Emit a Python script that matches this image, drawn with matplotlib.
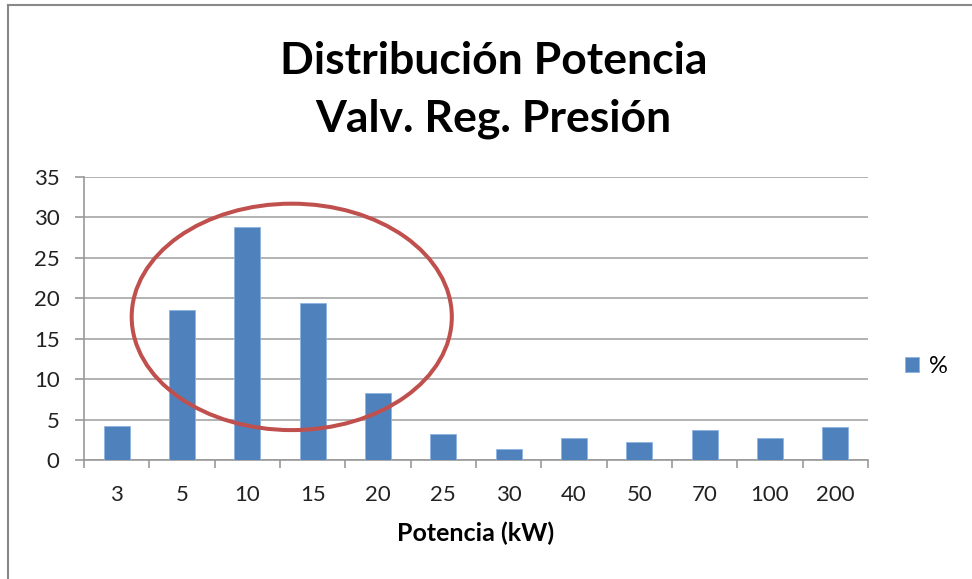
import matplotlib.pyplot as plt
from matplotlib.patches import Ellipse
from matplotlib.lines import Line2D
import numpy as np

# data
categories = ['3', '5', '10', '15', '20', '25', '30', '40', '50', '70', '100', '200']
percent = [4.2, 18.5, 28.8, 19.4, 8.3, 3.2, 1.4, 2.7, 2.2, 3.7, 2.7, 4.1]
y_ticks = [0, 5, 10, 15, 20, 25, 30, 35]

plt.rcParams['font.family'] = ['Lato', 'DejaVu Sans']

fig = plt.figure(figsize=(9.72, 5.79), dpi=100)
ax = fig.add_axes([0.0864, 0.2055, 0.8066, 0.4888])

x = np.arange(len(categories))
ax.bar(x, percent, 0.4, color='#4F81BD', edgecolor='#8EB4E3', linewidth=0.6, zorder=3, label='%')

ax.set_xlim(-0.5, len(categories) - 0.5)
ax.set_ylim(0, 35)
ax.set_yticks(y_ticks)
ax.set_yticklabels([str(v) for v in y_ticks], fontsize=16, color='#222222')
ax.set_xticks(x)
ax.set_xticklabels(categories, fontsize=16, color='#222222')
ax.tick_params(axis='x', length=0, pad=18)
ax.tick_params(axis='y', length=6.5, width=1.2, color='#999999', pad=11)
ax.set_xticks(np.arange(len(categories) + 1) - 0.5, minor=True)
ax.tick_params(axis='x', which='minor', length=6, width=1.2, color='#999999')

ax.grid(axis='y', color='#A6A6A6', linewidth=1.2, zorder=0)
for s in ['top', 'right']:
    ax.spines[s].set_visible(False)
ax.spines['left'].set_color('#999999')
ax.spines['left'].set_linewidth(1.2)
ax.spines['bottom'].set_color('#999999')
ax.spines['bottom'].set_linewidth(1.2)

ax.set_xlabel('Potencia (kW)', fontsize=18, fontweight='bold', labelpad=12)

# red ellipse highlight
ell = Ellipse((2.68, 17.7), 4.9, 28, fill=False, edgecolor='#C0504D', linewidth=2.9, zorder=4, clip_on=False)
ax.add_patch(ell)

fig.text(0.508, 0.93, 'Distribución Potencia\nValv. Reg. Presión', ha='center', va='top',
         fontsize=32, fontweight='bold', linespacing=1.55)

leg = ax.legend(loc='center left', bbox_to_anchor=(1.02, 0.33), frameon=False, fontsize=17,
                handlelength=0.6, handleheight=0.6, handletextpad=0.4)

# outer border lines (left and top)
fig.add_artist(Line2D([8/972, 1], [1 - 5/579, 1 - 5/579], color='#888888', linewidth=1.5))
fig.add_artist(Line2D([8/972, 8/972], [0, 1 - 5/579], color='#888888', linewidth=1.5))

fig.savefig('out.png', dpi=100)
